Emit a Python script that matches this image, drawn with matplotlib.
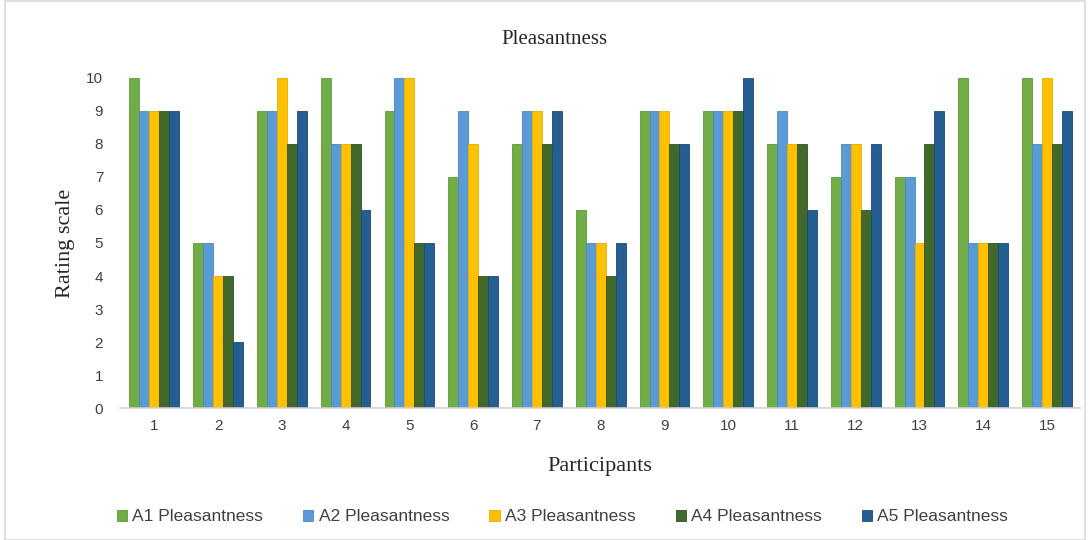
import numpy as np
import matplotlib
matplotlib.use("Agg")
import matplotlib.pyplot as plt
from matplotlib.patches import Rectangle

participants = [str(i) for i in range(1, 16)]
series_names = ["A1 Pleasantness", "A2 Pleasantness", "A3 Pleasantness",
                "A4 Pleasantness", "A5 Pleasantness"]
a1 = [10, 5, 9, 10, 9, 7, 8, 6, 9, 9, 8, 7, 7, 10, 10]
a2 = [9, 5, 9, 8, 10, 9, 9, 5, 9, 9, 9, 8, 7, 5, 8]
a3 = [9, 4, 10, 8, 10, 8, 9, 5, 9, 9, 8, 8, 5, 5, 10]
a4 = [9, 4, 8, 8, 5, 4, 8, 4, 8, 9, 8, 6, 8, 5, 8]
a5 = [9, 2, 9, 6, 5, 4, 9, 5, 8, 10, 6, 8, 9, 5, 9]
colors = ["#70AD47", "#5B9BD5", "#FFC000", "#43682B", "#255E91"]
edges = ["#5E9A3A", "#4A88C2", "#E6AC00", "#33521F", "#1A4A77"]

SERIF = ["Liberation Serif", "DejaVu Serif"]
SANS = ["Liberation Sans Narrow", "Liberation Sans", "DejaVu Sans"]

fig = plt.figure(figsize=(10.9, 5.4), dpi=100)
ax = fig.add_axes([0.110, 0.2444, 0.881, 0.6112])

x = np.arange(1, 16)
w = 0.156
for i, (vals, name) in enumerate(zip([a1, a2, a3, a4, a5], series_names)):
    ax.bar(x + (i - 2) * w, vals, width=w, color=colors[i], edgecolor=edges[i],
           linewidth=0.6, label=name, zorder=2)

ax.set_xlim(0.46, 15.52)
ax.set_ylim(0, 10)
ax.set_yticks(range(0, 11))
ax.set_xticks(x)
ax.set_xticklabels(participants)
for s in ("top", "right", "left"):
    ax.spines[s].set_visible(False)
ax.spines["bottom"].set_color("#D0D0D0")
ax.spines["bottom"].set_linewidth(1.2)
ax.tick_params(axis="both", length=0, labelsize=11, colors="#404040")
ax.tick_params(axis="y", pad=12)
ax.tick_params(axis="x", pad=8)
for lab in ax.get_xticklabels() + ax.get_yticklabels():
    lab.set_family(SANS)

ax.set_xlabel("Participants", family=SERIF, fontsize=16, color="#262626", labelpad=17)
ax.set_ylabel("Rating scale", family=SERIF, fontsize=16, color="#262626", labelpad=8)
fig.text(0.509, 0.926, "Pleasantness", family=SERIF, fontsize=15,
         color="#262626", ha="center", va="center")

fig.legend(loc="center", bbox_to_anchor=(0.516, 0.043), ncol=5, frameon=False,
           handlelength=0.6, handleheight=0.6, handletextpad=0.3, columnspacing=2.3,
           prop={"family": SANS, "size": 12.5}, labelcolor="#404040")

fig.patches.append(Rectangle((0.005, 0.0), 0.99, 0.998, transform=fig.transFigure,
                             fill=False, edgecolor="#D9D9D9", linewidth=1.2))

fig.savefig("out.png", dpi=100)
